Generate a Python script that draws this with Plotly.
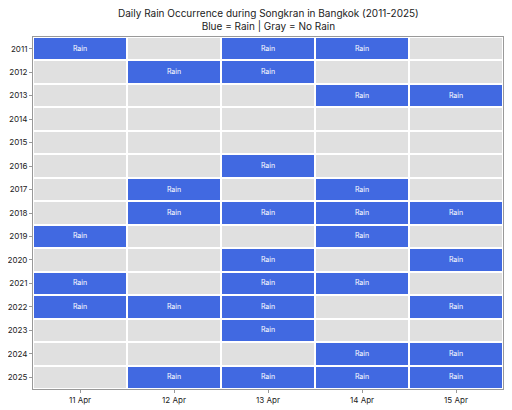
import plotly.graph_objects as go

days = ["11 Apr", "12 Apr", "13 Apr", "14 Apr", "15 Apr"]
years = [str(y) for y in range(2011, 2026)]
# 1 = Rain, 0 = No Rain; columns 11..15 Apr
r2011 = [1, 0, 1, 1, 0]
r2012 = [0, 1, 1, 0, 0]
r2013 = [0, 0, 0, 1, 1]
r2014 = [0, 0, 0, 0, 0]
r2015 = [0, 0, 0, 0, 0]
r2016 = [0, 0, 1, 0, 0]
r2017 = [0, 1, 0, 1, 0]
r2018 = [0, 1, 1, 1, 1]
r2019 = [1, 0, 0, 1, 0]
r2020 = [0, 0, 1, 0, 1]
r2021 = [1, 0, 1, 1, 0]
r2022 = [1, 1, 1, 0, 1]
r2023 = [0, 0, 1, 0, 0]
r2024 = [0, 0, 0, 1, 1]
r2025 = [0, 1, 1, 1, 1]
rain = [r2011, r2012, r2013, r2014, r2015, r2016, r2017, r2018, r2019,
        r2020, r2021, r2022, r2023, r2024, r2025]

text = [["Rain" if v else "" for v in row] for row in rain]

fig = go.Figure(go.Heatmap(
    z=rain, x=days, y=years, text=text, texttemplate="%{text}",
    textfont=dict(color="white", size=7, family="Inter"),
    colorscale=[[0, "#e0e0e0"], [0.5, "#e0e0e0"], [0.5, "#4169e1"], [1, "#4169e1"]],
    zmin=0, zmax=1, showscale=False, xgap=2, ygap=2,
))

fig.update_layout(
    width=512, height=410,
    margin=dict(l=25, r=17, t=29, b=29),
    paper_bgcolor="white", plot_bgcolor="white",
    font=dict(family="Inter", size=8, color="#222"),
    annotations=[dict(
        text="Daily Rain Occurrence during Songkran in Bangkok (2011-2025)<br>Blue = Rain | Gray = No Rain",
        xref="paper", yref="paper", x=0.5, y=1.0, yshift=32, xanchor="center", yanchor="top",
        showarrow=False, align="center",
        font=dict(size=10, family="Inter", color="#222"))],
)
fig.update_xaxes(showline=True, linecolor="#999", linewidth=1, mirror=True, automargin=False,
                 ticks="outside", ticklen=3, tickcolor="#999", showgrid=False)
fig.update_yaxes(autorange="reversed", showline=True, linecolor="#999", linewidth=1, automargin=False,
                 mirror=True, ticks="outside", ticklen=3, tickcolor="#999", showgrid=False)

fig.write_html("out.html")
